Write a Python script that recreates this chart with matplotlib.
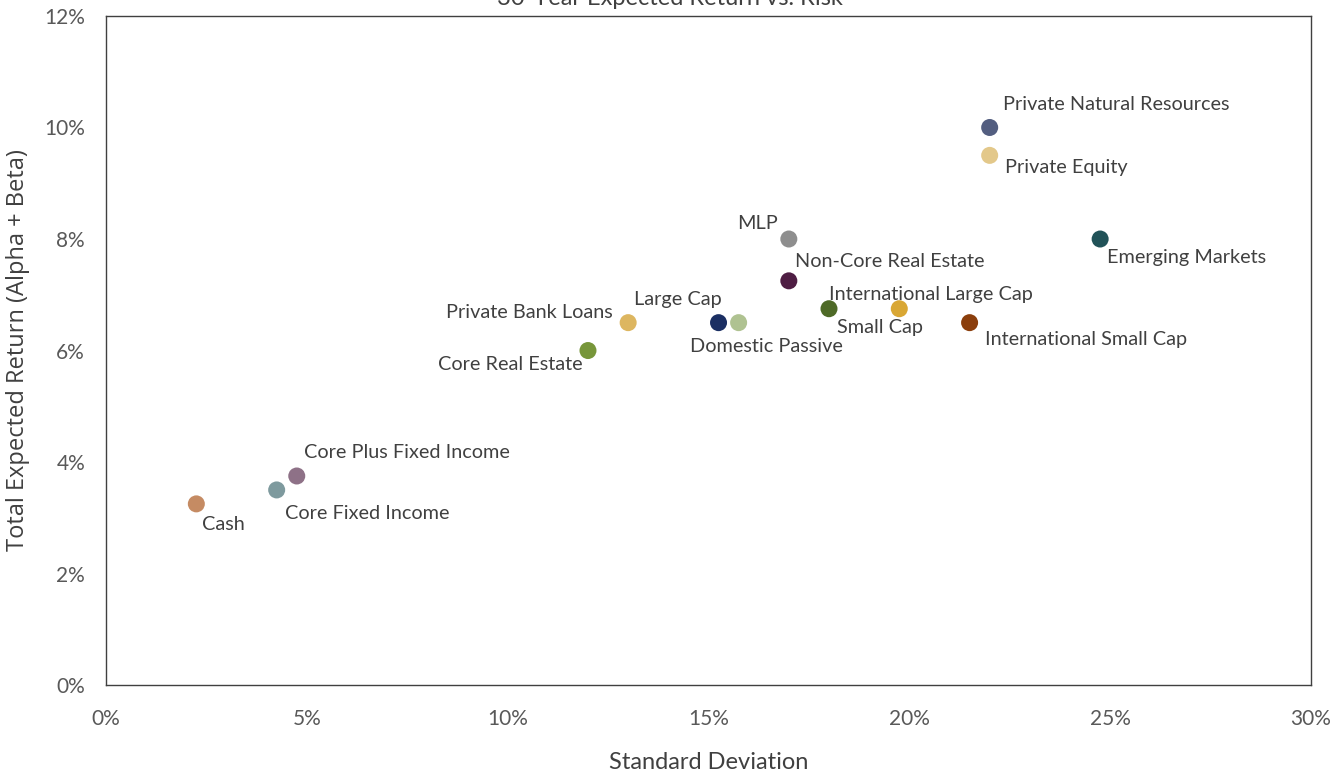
import matplotlib
matplotlib.use("Agg")
import matplotlib.pyplot as plt
from matplotlib.ticker import PercentFormatter

plt.rcParams['font.family'] = ['Lato', 'DejaVu Sans']

# data (percent)
assets = ['Cash', 'Core Fixed Income', 'Core Plus Fixed Income', 'Core Real Estate',
          'Private Bank Loans', 'Large Cap', 'Domestic Passive', 'MLP',
          'Non-Core Real Estate', 'Small Cap', 'International Large Cap',
          'International Small Cap', 'Private Natural Resources', 'Private Equity',
          'Emerging Markets']
std_dev = [2.25, 4.25, 4.75, 12.0, 13.0, 15.25, 15.75, 17.0, 17.0, 18.0, 19.75,
           21.5, 22.0, 22.0, 24.75]
exp_return = [3.25, 3.5, 3.75, 6.0, 6.5, 6.5, 6.5, 8.0, 7.25, 6.75, 6.75,
              6.5, 10.0, 9.5, 8.0]

colors = ['#C58B63', '#7E9A9E', '#8E7187', '#77963A', '#DDB660', '#1B2F63',
          '#AFC291', '#8E8E8E', '#4E1D43', '#4E6A27', '#D9A734', '#8B3E0C',
          '#535E80', '#E3C88A', '#215258']

# label placement: (dx px, dy px, ha)
offsets = [(6, -21, 'left'), (8, -24, 'left'), (7, 23, 'left'), (-5, -14, 'right'),
           (-15, 10, 'right'), (-85, 23, 'left'), (-49, -24, 'left'), (-11, 16, 'right'),
           (6, 19, 'left'), (8, -19, 'left'), (-70, 14, 'left'), (15, -17, 'left'),
           (13, 23, 'left'), (15, -12, 'left'), (7, -18, 'left')]

fig = plt.figure(figsize=(13.31, 7.75), dpi=100)
ax = fig.add_axes([0.0796, 0.116, 0.9054, 0.8634])

ax.scatter(std_dev, exp_return, s=150, c=colors, zorder=3, linewidths=0)

for name, x, y, (dx, dy, ha) in zip(assets, std_dev, exp_return, offsets):
    ax.annotate(name, (x, y), xytext=(dx, dy), textcoords='offset pixels',
                ha=ha, va='center', fontsize=14.3, color='#404040')

ax.set_xlim(0, 30)
ax.set_ylim(0, 12)
ax.set_xticks(range(0, 31, 5))
ax.set_yticks(range(0, 13, 2))
ax.xaxis.set_major_formatter(PercentFormatter(decimals=0))
ax.yaxis.set_major_formatter(PercentFormatter(decimals=0))
ax.tick_params(length=0, labelsize=15, labelcolor='#595959')
ax.tick_params(axis='x', pad=17)
ax.tick_params(axis='y', pad=15)
for sp in ax.spines.values():
    sp.set_color('#404040')
    sp.set_linewidth(1)

ax.set_xlabel('Standard Deviation', fontsize=17, color='#404040', labelpad=17)
ax.set_ylabel('Total Expected Return (Alpha + Beta)', fontsize=17, color='#404040',
              labelpad=10, family=['Open Sans', 'DejaVu Sans'])

fig.text(0.503, 0.9935, '30-Year Expected Return vs. Risk', ha='center', va='baseline',
         fontsize=17, color='#404040')

fig.savefig('out.png', dpi=100)
